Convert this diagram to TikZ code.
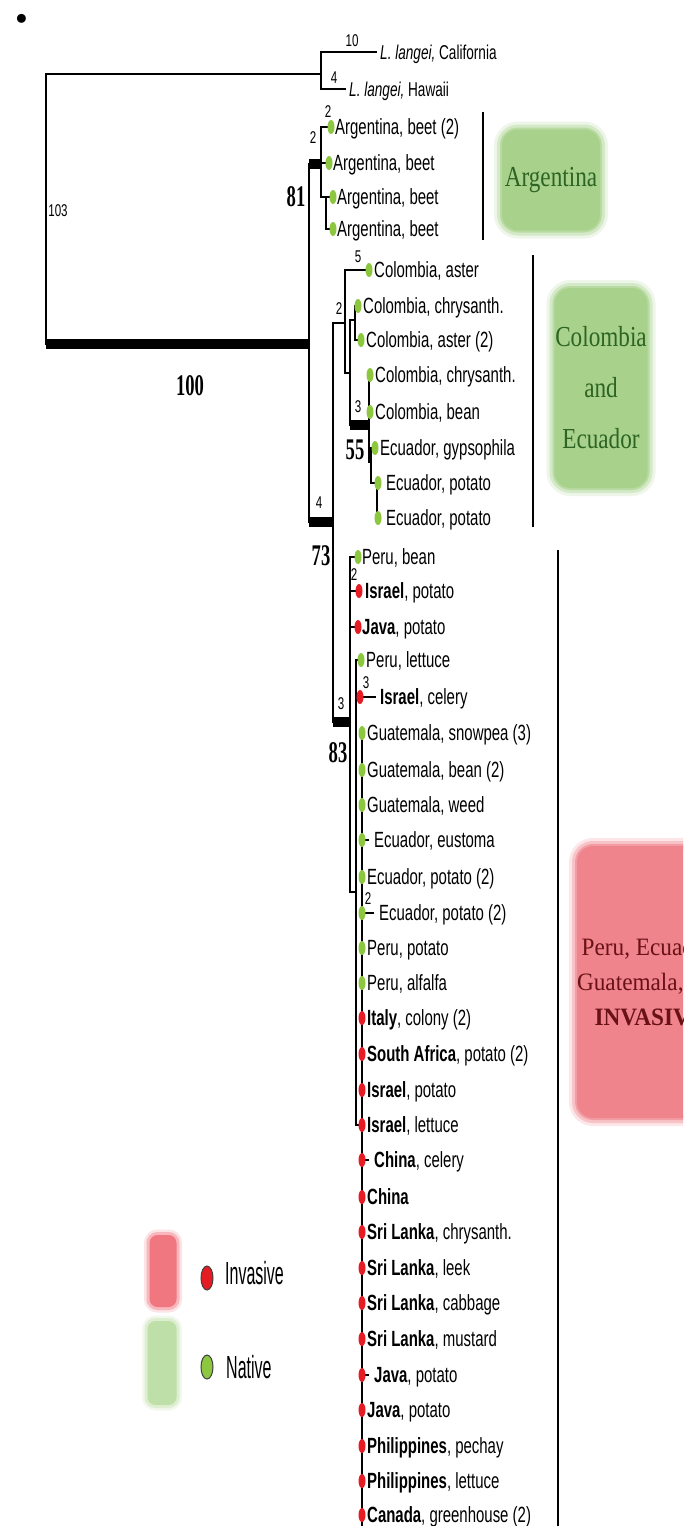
\documentclass[tikz,border=0pt]{standalone}
\usepackage{fontspec}
\usepackage{xcolor}
\usepackage{tikz}
\usetikzlibrary{positioning,shapes.geometric}
\newfontfamily\leafsans[FakeStretch=0.68]{Liberation Sans}
\newfontfamily\keysans[FakeStretch=0.5]{Liberation Sans}
\newfontfamily\bootserif[FakeStretch=0.62]{Liberation Serif}
\newfontfamily\cladeserif[FakeStretch=0.8]{Liberation Serif}
\newfontfamily\invserif[FakeStretch=0.93]{Liberation Serif}
\definecolor{natgreen}{RGB}{141,198,63}
\definecolor{invred}{RGB}{230,28,36}
\definecolor{natfill}{RGB}{168,210,140}
\definecolor{invfill}{RGB}{240,132,140}
\definecolor{natkey}{RGB}{190,223,168}
\definecolor{invkey}{RGB}{240,118,128}
\definecolor{natink}{RGB}{45,100,35}
\definecolor{invink}{RGB}{105,18,22}

\begin{document}
\begin{tikzpicture}[x=1pt, y=-1pt,
  br/.style={line width=1.4pt},
  bar/.style={line width=10pt},
  grp/.style={line width=2.5pt},
  lf/.style={inner sep=0pt, text height=15pt, text depth=0pt, font=\leafsans\fontsize{22}{22}\selectfont},
  og/.style={inner sep=0pt, text height=14pt, text depth=0pt, font=\leafsans\fontsize{20}{20}\selectfont},
  bl/.style={inner sep=0pt, text height=12pt, text depth=0pt, font=\leafsans\fontsize{17}{17}\selectfont},
  bs/.style={inner sep=0pt, text height=20pt, text depth=0pt, font=\bootserif\bfseries\fontsize{30}{30}\selectfont},
  nat/.style={ellipse, fill=natgreen, minimum width=7pt, minimum height=14pt, inner sep=0pt},
  inv/.style={ellipse, fill=invred, minimum width=7pt, minimum height=14pt, inner sep=0pt},
  softbox/.style={rounded corners=16pt, inner sep=0pt, align=center, fill=#1,
    preaction={draw=#1, draw opacity=0.2, line width=16pt},
    preaction={draw=#1, draw opacity=0.35, line width=10pt},
    preaction={draw=#1, draw opacity=0.6, line width=4pt}},
  keybox/.style={rounded corners=8pt, inner sep=0pt, fill=#1,
    preaction={draw=#1, draw opacity=0.2, line width=11pt},
    preaction={draw=#1, draw opacity=0.4, line width=6pt}},
  keytext/.style={inner sep=0pt, anchor=west, text height=23pt, text depth=0pt, font=\keysans\fontsize{32}{32}\selectfont}]
\useasboundingbox (0,0) rectangle (683,1526);
\clip (0,0) rectangle (683,1526);
\fill[white] (0,0) rectangle (683,1526);
\node[inner sep=0pt, font=\fontsize{40}{40}\selectfont] (bullet) at (22,22) {\textbullet};

% root, outgroup and the 100 branch
\coordinate (root) at (46,200);
\coordinate (nout) at (321,74);
\coordinate (n100) at (309,344);
\draw[br] (root) |- (nout); \draw[br] (root) |- (n100);
\draw[bar] (root |- n100) -- (n100);
\node[bl] (b103) at (58,210) {103};
\node[bs] (s100) at (190,385) {100};
\coordinate (cal) at (377,52); \coordinate (haw) at (346,89);
\draw[br] (nout) |- (cal); \draw[br] (nout) |- (haw);
\node[og, right=3pt of cal] (calt) {\textit{L. langei,} California};
\node[og, right=3pt of haw] (hawt) {\textit{L. langei,} Hawaii};
\node[bl] (b10) at (352,40) {10}; \node[bl] (b4o) at (334,77) {4};

% Argentina
\coordinate (n81) at (321,164);
\draw[br] (n100) |- (n81); \draw[bar] (n100 |- n81) -- (n81);
\coordinate (a1) at (331,127); \coordinate (a2) at (329,163);
\coordinate (na3) at (326,197); \coordinate (a3) at (333,197); \coordinate (a4) at (333,229);
\draw[br] (n81) |- (a1); \draw[br] (n81) |- (a2); \draw[br] (n81) |- (na3);
\draw[br] (na3) |- (a3); \draw[br] (na3) |- (a4);
\node[nat] (a1d) at (a1) {}; \node[nat] (a2d) at (a2) {}; \node[nat] (a3d) at (a3) {}; \node[nat] (a4d) at (a4) {};
\node[lf, right=4pt of a1] (a1t) {Argentina, beet (2)};
\node[lf, right=4pt of a2] (a2t) {Argentina, beet};
\node[lf, right=4pt of a3] (a3t) {Argentina, beet};
\node[lf, right=4pt of a4] (a4t) {Argentina, beet};
\node[bl] (b2a) at (328,111) {2}; \node[bl] (b2b) at (313,137) {2};
\node[bs] (s81) at (296,196) {81};

% Colombia and Ecuador
\coordinate (n73) at (333,522);
\draw[br] (n100) |- (n73); \draw[bar] (n100 |- n73) -- (n73);
\node[bl] (b4c) at (319,502) {4}; \node[bs] (s73) at (321,555) {73};
\coordinate (nce) at (345,323); \coordinate (nce2) at (350,373); \coordinate (ncc) at (355,320);
\coordinate (n55) at (369,425); \coordinate (nec) at (371,462); \coordinate (nep) at (377,483);
\coordinate (c1) at (369,270); \coordinate (c2) at (358,306); \coordinate (c3) at (361,340);
\coordinate (c4) at (370,375); \coordinate (c5) at (370,412); \coordinate (c6) at (375,448);
\coordinate (e1) at (381,483); \coordinate (e2) at (381,518);
\draw[br] (n73) |- (nce); \draw[br] (nce) |- (c1); \draw[br] (nce) |- (nce2);
\draw[br] (nce2) |- (ncc); \draw[br] (ncc) |- (c2); \draw[br] (ncc) |- (c3);
\draw[br] (nce2) |- (n55); \draw[bar] (nce2 |- n55) -- (n55);
\draw[br] (n55) |- (c4); \draw[br] (n55) |- (c5); \draw[br] (n55) |- (nec);
\draw[br] (nec) |- (c6); \draw[br] (nec) |- (nep);
\draw[br] (nep) |- (e1); \draw[br] (nep) |- (e2);
\node[nat] (c1d) at (c1) {}; \node[nat] (c2d) at (c2) {}; \node[nat] (c3d) at (c3) {};
\node[nat] (c4d) at (c4) {}; \node[nat] (c5d) at (c5) {}; \node[nat] (c6d) at (c6) {};
\node[nat] (e1d) at (378,483) {}; \node[nat] (e2d) at (378,518) {};
\node[lf, right=5pt of c1] (c1t) {Colombia, aster};
\node[lf, right=5pt of c2] (c2t) {Colombia, chrysanth.};
\node[lf, right=5pt of c3] (c3t) {Colombia, aster (2)};
\node[lf, right=5pt of c4] (c4t) {Colombia, chrysanth.};
\node[lf, right=5pt of c5] (c5t) {Colombia, bean};
\node[lf, right=5pt of c6] (c6t) {Ecuador, gypsophila};
\node[lf, right=5pt of e1] (e1t) {Ecuador, potato};
\node[lf, right=5pt of e2] (e2t) {Ecuador, potato};
\node[bl] (b2c) at (339,308) {2}; \node[bl] (b5) at (358,256) {5};
\node[bl] (b3c) at (358,406) {3}; \node[bs] (s55) at (355,449) {55};

% Peru, Ecuador, Guatemala and the invasive samples
\coordinate (n83) at (350,722); \coordinate (np) at (356,892); \coordinate (nq) at (362,1125);
\coordinate (i1) at (358,557); \coordinate (i2) at (360,591); \coordinate (i3) at (358,627);
\coordinate (i4) at (361,660); \coordinate (i5) at (376,697);
\coordinate (q1) at (362,733); \coordinate (q2) at (362,770); \coordinate (q3) at (362,805);
\coordinate (q4) at (369,840); \coordinate (q5) at (362,877); \coordinate (q6) at (374,913);
\coordinate (q7) at (362,948); \coordinate (q8) at (362,983); \coordinate (q9) at (362,1018);
\coordinate (q10) at (362,1054); \coordinate (q11) at (362,1090); \coordinate (q12) at (362,1125);
\coordinate (q13) at (369,1160); \coordinate (q14) at (362,1197); \coordinate (q15) at (362,1232);
\coordinate (q16) at (362,1268); \coordinate (q17) at (362,1303); \coordinate (q18) at (362,1339);
\coordinate (q19) at (369,1375); \coordinate (q20) at (362,1410); \coordinate (q21) at (362,1446);
\coordinate (q22) at (362,1481); \coordinate (q23) at (362,1515); \coordinate (qcut) at (362,1530);
\draw[br] (n73) |- (n83); \draw[bar] (n73 |- n83) -- (n83);
\draw[br] (n83) |- (i1); \draw[br] (n83) |- (i2); \draw[br] (n83) |- (i3); \draw[br] (n83) |- (np);
\draw[br] (np) |- (i4); \draw[br] (np) |- (i5); \draw[br] (np) |- (nq);
\draw[br] (nq) |- (q1); \draw[br] (nq) |- (q4); \draw[br] (nq) |- (q6);
\draw[br] (nq) |- (q13); \draw[br] (nq) |- (q19); \draw[br] (nq) -- (qcut);
\node[bl] (b3i) at (341,703) {3}; \node[bs] (s83) at (338,752) {83};
\node[bl] (b2i) at (354,574) {2}; \node[bl] (b3j) at (366,682) {3}; \node[bl] (b2q) at (368,898) {2};
\node[nat] (i1d) at (i1) {}; \node[inv] (i2d) at (359,591) {}; \node[inv] (i3d) at (i3) {};
\node[nat] (i4d) at (i4) {}; \node[inv] (i5d) at (360,697) {};
\node[nat] (q1d) at (q1) {}; \node[nat] (q2d) at (q2) {}; \node[nat] (q3d) at (q3) {};
\node[nat] (q4d) at (362,840) {}; \node[nat] (q5d) at (q5) {}; \node[nat] (q6d) at (362,913) {};
\node[nat] (q7d) at (q7) {}; \node[nat] (q8d) at (q8) {}; \node[inv] (q9d) at (q9) {};
\node[inv] (q10d) at (q10) {}; \node[inv] (q11d) at (q11) {}; \node[inv] (q12d) at (q12) {};
\node[inv] (q13d) at (362,1160) {}; \node[inv] (q14d) at (q14) {}; \node[inv] (q15d) at (q15) {};
\node[inv] (q16d) at (q16) {}; \node[inv] (q17d) at (q17) {}; \node[inv] (q18d) at (q18) {};
\node[inv] (q19d) at (362,1375) {}; \node[inv] (q20d) at (q20) {}; \node[inv] (q21d) at (q21) {};
\node[inv] (q22d) at (q22) {}; \node[inv] (q23d) at (q23) {};
\node[lf, right=4pt of i1] (i1t) {Peru, bean};
\node[lf, right=5pt of i2] (i2t) {\textbf{Israel}, potato};
\node[lf, right=4pt of i3] (i3t) {\textbf{Java}, potato};
\node[lf, right=5pt of i4] (i4t) {Peru, lettuce};
\node[lf, right=4pt of i5] (i5t) {\textbf{Israel}, celery};
\node[lf, right=5pt of q1] (q1t) {Guatemala, snowpea (3)};
\node[lf, right=5pt of q2] (q2t) {Guatemala, bean (2)};
\node[lf, right=5pt of q3] (q3t) {Guatemala, weed};
\node[lf, right=5pt of q4] (q4t) {Ecuador, eustoma};
\node[lf, right=5pt of q5] (q5t) {Ecuador, potato (2)};
\node[lf, right=5pt of q6] (q6t) {Ecuador, potato (2)};
\node[lf, right=5pt of q7] (q7t) {Peru, potato};
\node[lf, right=5pt of q8] (q8t) {Peru, alfalfa};
\node[lf, right=5pt of q9] (q9t) {\textbf{Italy}, colony (2)};
\node[lf, right=5pt of q10] (q10t) {\textbf{South Africa}, potato (2)};
\node[lf, right=5pt of q11] (q11t) {\textbf{Israel}, potato};
\node[lf, right=5pt of q12] (q12t) {\textbf{Israel}, lettuce};
\node[lf, right=5pt of q13] (q13t) {\textbf{China}, celery};
\node[lf, right=5pt of q14] (q14t) {\textbf{China}};
\node[lf, right=5pt of q15] (q15t) {\textbf{Sri Lanka}, chrysanth.};
\node[lf, right=5pt of q16] (q16t) {\textbf{Sri Lanka}, leek};
\node[lf, right=5pt of q17] (q17t) {\textbf{Sri Lanka}, cabbage};
\node[lf, right=5pt of q18] (q18t) {\textbf{Sri Lanka}, mustard};
\node[lf, right=5pt of q19] (q19t) {\textbf{Java}, potato};
\node[lf, right=5pt of q20] (q20t) {\textbf{Java}, potato};
\node[lf, right=5pt of q21] (q21t) {\textbf{Philippines}, pechay};
\node[lf, right=5pt of q22] (q22t) {\textbf{Philippines}, lettuce};
\node[lf, right=5pt of q23] (q23t) {\textbf{Canada}, greenhouse (2)};

% clade bars and boxes
\coordinate (argtop) at (483,112); \coordinate (argbot) at (483,240);
\coordinate (coltop) at (533,255); \coordinate (colbot) at (533,527);
\coordinate (invtop) at (558,550); \coordinate (invbot) at (558,1530);
\draw[grp] (argtop) -- (argbot); \draw[grp] (coltop) -- (colbot); \draw[grp] (invtop) -- (invbot);
\node[softbox=natfill, minimum width=98pt, minimum height=101pt, text=natink,
  font=\cladeserif\fontsize{29}{29}\selectfont] (argbox) at (551,180) {Argentina};
\node[softbox=natfill, minimum width=93pt, minimum height=200pt, text=natink,
  font=\cladeserif\fontsize{29}{51}\selectfont] (colbox) at (601,388) {Colombia\\and\\Ecuador};
\node[softbox=invfill, minimum width=137pt, minimum height=272pt, text=invink,
  font=\invserif\fontsize{25}{35}\selectfont] (invbox) at (650,982) {Peru, Ecuador,\\Guatemala, and\\\textbf{INVASIVE}};

% key
\node[keybox=invkey, minimum width=27pt, minimum height=72pt] (keyinvbox) at (163,1271) {};
\node[keybox=natkey, minimum width=29pt, minimum height=84pt] (keynatbox) at (162,1363) {};
\node[ellipse, fill=invred, draw=black!75, line width=1pt, minimum width=12pt, minimum height=24pt, inner sep=0pt] (keyinvdot) at (207,1278) {};
\node[ellipse, fill=natgreen, draw=black!75, line width=1pt, minimum width=12pt, minimum height=24pt, inner sep=0pt] (keynatdot) at (207,1367) {};
\node[keytext] (keyinv) at (225,1273) {Invasive};
\node[keytext] (keynat) at (226,1367) {Native};
\end{tikzpicture}
\end{document}
